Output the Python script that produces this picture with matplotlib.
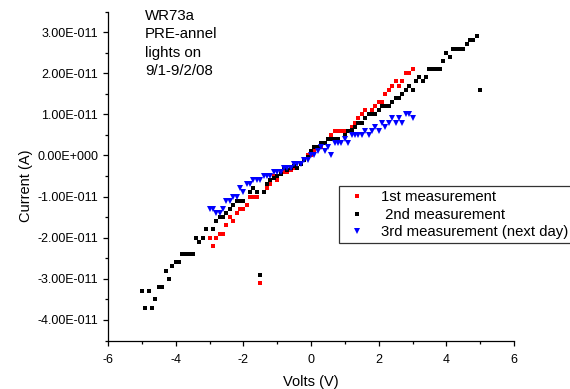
import numpy as np
import matplotlib
matplotlib.use("Agg")
import matplotlib.pyplot as plt
from matplotlib.ticker import FuncFormatter, MultipleLocator

plt.rcParams["font.family"] = ["Liberation Sans", "DejaVu Sans"]

# =========================
# Data (current in units of 1e-11 A)
# =========================

volts_1st = [-3.0, -2.9, -2.8, -2.7, -2.6, -2.5, -2.4, -2.3, -2.2, -2.1, -2.0,
             -1.9, -1.8, -1.7, -1.6, -1.5, -1.4, -1.3, -1.2, -1.1, -1.0,
             -0.9, -0.8, -0.7, -0.6, -0.5, -0.4, -0.3, -0.2, -0.1, 0.0,
             0.1, 0.2, 0.3, 0.4, 0.5, 0.6, 0.7, 0.8, 0.9, 1.0,
             1.1, 1.2, 1.3, 1.4, 1.5, 1.6, 1.7, 1.8, 1.9, 2.0,
             2.1, 2.2, 2.3, 2.4, 2.5, 2.6, 2.7, 2.8, 2.9, 3.0]
current_1st = [-2.0, -2.2, -2.0, -1.9, -1.9, -1.7, -1.5, -1.6, -1.4, -1.3, -1.3,
               -1.2, -1.0, -1.0, -1.0, -3.1, -0.9, -0.8, -0.7, -0.5, -0.6,
               -0.4, -0.4, -0.4, -0.35, -0.3, -0.3, -0.2, -0.1, 0.0, 0.0,
               0.1, 0.2, 0.2, 0.3, 0.4, 0.5, 0.6, 0.6, 0.6, 0.6,
               0.6, 0.7, 0.8, 0.9, 1.0, 1.1, 1.0, 1.1, 1.2, 1.3,
               1.3, 1.5, 1.6, 1.7, 1.8, 1.7, 1.8, 2.0, 2.0, 2.1]

volts_2nd = [-5.0, -4.9, -4.8, -4.7, -4.6, -4.5, -4.4, -4.3, -4.2, -4.1, -4.0,
             -3.9, -3.8, -3.7, -3.6, -3.5, -3.4, -3.3, -3.2, -3.1, -2.9,
             -2.8, -2.7, -2.6, -2.5, -2.4, -2.3, -2.2, -2.1, -2.0,
             -1.8, -1.7, -1.6, -1.5, -1.4, -1.3, -1.2, -1.1, -1.0,
             -0.9, -0.8, -0.7, -0.6, -0.5, -0.4, -0.3, -0.2, -0.1, 0.0,
             0.1, 0.2, 0.3, 0.4, 0.5, 0.6, 0.7, 0.8, 1.0,
             1.1, 1.2, 1.3, 1.4, 1.5, 1.6, 1.7, 1.8, 1.9, 2.0,
             2.1, 2.2, 2.3, 2.4, 2.5, 2.6, 2.7, 2.8, 2.9, 3.0,
             3.1, 3.2, 3.3, 3.4, 3.5, 3.6, 3.7, 3.8, 3.9, 4.0,
             4.1, 4.2, 4.3, 4.4, 4.5, 4.6, 4.7, 4.8, 4.9, 5.0]
current_2nd = [-3.3, -3.7, -3.3, -3.7, -3.5, -3.2, -3.2, -2.8, -3.0, -2.7, -2.6,
               -2.6, -2.4, -2.4, -2.4, -2.4, -2.0, -2.1, -2.0, -1.8, -1.8,
               -1.6, -1.5, -1.5, -1.4, -1.3, -1.2, -1.1, -1.1, -1.1,
               -0.9, -0.8, -0.9, -2.9, -0.9, -0.7, -0.6, -0.55, -0.5,
               -0.45, -0.3, -0.35, -0.3, -0.25, -0.3, -0.2, -0.1, -0.05, 0.1,
               0.2, 0.2, 0.3, 0.3, 0.4, 0.4, 0.4, 0.4, 0.5,
               0.6, 0.63, 0.7, 0.8, 0.8, 0.9, 1.0, 1.0, 1.0, 1.1,
               1.2, 1.2, 1.2, 1.3, 1.4, 1.4, 1.5, 1.6, 1.7, 1.6,
               1.8, 1.9, 1.8, 1.9, 2.1, 2.1, 2.1, 2.1, 2.3, 2.5,
               2.4, 2.6, 2.6, 2.6, 2.6, 2.7, 2.8, 2.8, 2.9, 1.6]

volts_3rd = [-3.0, -2.9, -2.8, -2.7, -2.6, -2.5, -2.4, -2.3, -2.2, -2.1, -2.0,
             -1.9, -1.8, -1.7, -1.6, -1.5, -1.4, -1.3, -1.2, -1.1, -1.0,
             -0.9, -0.8, -0.7, -0.6, -0.5, -0.4, -0.3, -0.2, -0.1, 0.0,
             0.1, 0.2, 0.3, 0.4, 0.5, 0.6, 0.7, 0.8, 0.9, 1.0,
             1.1, 1.2, 1.3, 1.4, 1.5, 1.6, 1.7, 1.8, 1.9, 2.0,
             2.1, 2.2, 2.3, 2.4, 2.5, 2.6, 2.7, 2.8, 2.9, 3.0]
current_3rd = [-1.3, -1.3, -1.4, -1.4, -1.3, -1.1, -1.1, -1.0, -1.0, -0.8, -0.9,
               -0.7, -0.7, -0.6, -0.6, -0.6, -0.5, -0.5, -0.5, -0.4, -0.4,
               -0.4, -0.3, -0.3, -0.3, -0.2, -0.2, -0.2, -0.1, -0.1, 0.0,
               0.0, 0.1, 0.2, 0.1, 0.2, 0.0, 0.3, 0.3, 0.3, 0.4,
               0.3, 0.5, 0.5, 0.5, 0.5, 0.6, 0.5, 0.6, 0.7, 0.6,
               0.8, 0.7, 0.8, 0.9, 0.8, 0.9, 0.8, 1.0, 1.0, 0.9]

labels = ["1st measurement", " 2nd measurement", "3rd measurement (next day)"]
annotation = "WR73a\nPRE-annel\nlights on\n9/1-9/2/08"

scale = 1e-11

# =========================
# Plot
# =========================

fig = plt.figure(figsize=(5.70, 3.89), dpi=100)
ax = fig.add_axes([108 / 570, 1 - 340.5 / 389, (514 - 108) / 570, (340.5 - 11.5) / 389])

ax.plot(volts_1st, np.array(current_1st) * scale, "s", color="#ff0000",
        ms=3.0, mew=0, label=labels[0])
ax.plot(volts_2nd, np.array(current_2nd) * scale, "s", color="black",
        ms=3.0, mew=0, label=labels[1])
ax.plot(volts_3rd, np.array(current_3rd) * scale, "v", color="#0000ff",
        ms=4.0, mew=0, label=labels[2])

ax.set_xlim(-6, 6)
ax.set_ylim(-4.5e-11, 3.5e-11)

ax.xaxis.set_major_locator(MultipleLocator(2))
ax.xaxis.set_minor_locator(MultipleLocator(1))
ax.yaxis.set_major_locator(MultipleLocator(1e-11))
ax.yaxis.set_minor_locator(MultipleLocator(0.5e-11))


def sci_label(v, pos):
    if abs(v) < 1e-20:
        return "0.00E+000"
    exp = int(np.floor(np.log10(abs(v)) + 1e-9))
    mant = v / 10 ** exp
    return "%.2fE%+04d" % (mant, exp)


ax.yaxis.set_major_formatter(FuncFormatter(sci_label))
ax.xaxis.set_major_formatter(FuncFormatter(lambda v, p: "%d" % v))
ax.yaxis.offsetText.set_visible(False)

for s in ["top", "right"]:
    ax.spines[s].set_visible(False)
for s in ["left", "bottom"]:
    ax.spines[s].set_linewidth(0.9)

ax.tick_params(which="major", direction="out", length=3.5, width=0.9, labelsize=9)
ax.tick_params(axis="x", which="major", pad=6)
ax.tick_params(which="minor", direction="out", length=2.2, width=0.9)

ax.set_xlabel("Volts (V)", fontsize=10.5)
ax.set_ylabel("Current (A)", fontsize=10.5)
ax.xaxis.set_label_coords(0.5, -0.105)
ax.yaxis.set_label_coords(-0.185, 0.47)

fig.text(145 / 570, 1 - 9 / 389, annotation, fontsize=10.8, va="top", ha="left",
         linespacing=1.4)

leg = ax.legend(loc="upper left", bbox_to_anchor=(339 / 570, 1 - 186 / 389),
                bbox_transform=fig.transFigure, fontsize=10.7, frameon=True,
                fancybox=False, borderaxespad=0, borderpad=0.3,
                handlelength=1.8, handletextpad=0.7, labelspacing=0.22,
                markerscale=1.0)
leg.get_frame().set_edgecolor("black")
leg.get_frame().set_linewidth(0.9)

plt.savefig("out.png", dpi=100)
plt.close()
